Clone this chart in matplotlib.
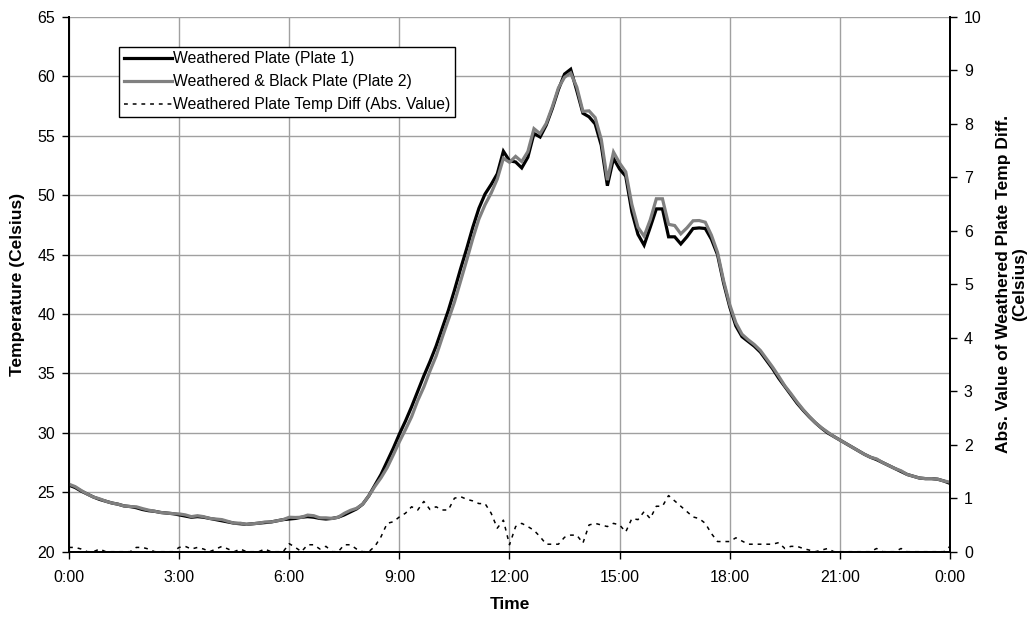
import numpy as np
import matplotlib
matplotlib.use("Agg")
import matplotlib.pyplot as plt
from matplotlib.lines import Line2D

plt.rcParams['font.family'] = ['Liberation Sans', 'DejaVu Sans']

# Readings every 10 minutes over one day (0:00 .. 24:00)
minutes = np.arange(0, 24 * 60 + 1, 10)
hours = minutes / 60.0

plate1 = [
    25.6, 25.4, 25.1, 24.85, 24.6, 24.4, 24.25, 24.1, 24.0, 23.85, 23.8, 23.7,
    23.55, 23.45, 23.4, 23.3, 23.25, 23.2, 23.1, 23.0, 22.9, 22.95, 22.9, 22.8,
    22.7, 22.6, 22.5, 22.4, 22.35, 22.3, 22.35, 22.4, 22.45, 22.5, 22.6, 22.7,
    22.75, 22.8, 22.9, 22.95, 22.9, 22.8, 22.75, 22.8, 22.9, 23.1, 23.35, 23.6,
    24.0, 24.7, 25.6, 26.5, 27.6, 28.7, 29.9, 31.0, 32.2, 33.5, 34.8, 36.0,
    37.3, 38.8, 40.3, 42.0, 43.8, 45.5, 47.3, 48.9, 50.1, 50.9, 51.8, 53.7,
    52.9, 52.8, 52.3, 53.2, 55.2, 54.9, 55.9, 57.3, 58.9, 60.2, 60.6, 58.8,
    56.9, 56.6, 56.0, 54.2, 50.8, 53.1, 52.2, 51.6, 48.6, 46.7, 45.8, 47.3,
    48.85, 48.85, 46.5, 46.5, 45.9, 46.5, 47.2, 47.25, 47.2, 46.3, 45.0, 42.6,
    40.6, 39.0, 38.1, 37.7, 37.3, 36.8, 36.1, 35.4, 34.6, 33.9, 33.2, 32.5,
    31.9, 31.35, 30.85, 30.4, 30.0, 29.7, 29.4, 29.1, 28.8, 28.5, 28.2, 27.95,
    27.75, 27.5, 27.25, 27.0, 26.75, 26.5, 26.35, 26.2, 26.15, 26.15, 26.1, 25.95,
    25.75,
]

plate2 = [
    25.68, 25.48, 25.15, 24.85, 24.6, 24.45, 24.25, 24.1, 24.0, 23.85, 23.8, 23.78,
    23.63, 23.5, 23.4, 23.3, 23.25, 23.2, 23.18, 23.1, 22.95, 23.03, 22.95, 22.8,
    22.75, 22.7, 22.55, 22.4, 22.4, 22.3, 22.35, 22.4, 22.5, 22.5, 22.6, 22.7,
    22.9, 22.88, 22.9, 23.08, 23.03, 22.85, 22.85, 22.8, 22.9, 23.23, 23.48, 23.65,
    24.0, 24.7, 25.5, 26.22, 27.07, 28.14, 29.25, 30.28, 31.36, 32.72, 33.86, 35.21,
    36.46, 38.02, 39.52, 41.0, 42.77, 44.52, 46.35, 48.0, 49.2, 50.18, 51.36, 53.11,
    52.77, 53.27, 52.83, 53.67, 55.6, 55.18, 56.04, 57.44, 59.04, 59.93, 60.29, 59.1,
    57.06, 57.1, 56.53, 54.7, 51.27, 53.63, 52.7, 51.97, 49.22, 47.3, 46.55, 47.92,
    49.7, 49.7, 47.55, 47.45, 46.75, 47.25, 47.85, 47.87, 47.73, 46.64, 45.19, 42.79,
    40.79, 39.26, 38.3, 37.84, 37.44, 36.94, 36.24, 35.54, 34.77, 33.96, 33.3, 32.6,
    31.96, 31.38, 30.85, 30.43, 30.06, 29.7, 29.4, 29.1, 28.8, 28.5, 28.2, 27.95,
    27.81, 27.5, 27.25, 27.0, 26.81, 26.5, 26.35, 26.2, 26.15, 26.15, 26.1, 25.95,
    25.85,
]

abs_diff = [
    0.08, 0.08, 0.05, 0.0, 0.0, 0.05, 0.0, 0.0, 0.0, 0.0, 0.0, 0.08,
    0.08, 0.05, 0.0, 0.0, 0.0, 0.0, 0.08, 0.1, 0.05, 0.08, 0.05, 0.0,
    0.05, 0.1, 0.05, 0.0, 0.05, 0.0, 0.0, 0.0, 0.05, 0.0, 0.0, 0.0,
    0.15, 0.08, 0.0, 0.13, 0.13, 0.05, 0.1, 0.0, 0.0, 0.13, 0.13, 0.05,
    0.0, 0.0, 0.1, 0.28, 0.53, 0.56, 0.65, 0.72, 0.84, 0.78, 0.94, 0.79,
    0.84, 0.78, 0.78, 1.0, 1.03, 0.98, 0.95, 0.9, 0.9, 0.72, 0.44, 0.59,
    0.13, 0.47, 0.53, 0.47, 0.4, 0.28, 0.14, 0.14, 0.14, 0.27, 0.31, 0.31,
    0.16, 0.5, 0.53, 0.5, 0.47, 0.53, 0.5, 0.37, 0.62, 0.6, 0.75, 0.62,
    0.85, 0.85, 1.05, 0.95, 0.85, 0.75, 0.65, 0.62, 0.53, 0.34, 0.19, 0.19,
    0.19, 0.26, 0.2, 0.14, 0.14, 0.14, 0.14, 0.14, 0.17, 0.06, 0.1, 0.1,
    0.06, 0.03, 0.0, 0.03, 0.06, 0.0, 0.0, 0.0, 0.0, 0.0, 0.0, 0.0,
    0.06, 0.0, 0.0, 0.0, 0.06, 0.0, 0.0, 0.0, 0.0, 0.0, 0.0, 0.0,
    0.1,
]

time_ticks = [0, 3, 6, 9, 12, 15, 18, 21, 24]
time_labels = ["0:00", "3:00", "6:00", "9:00", "12:00", "15:00", "18:00", "21:00", "0:00"]
temp_ticks = [20, 25, 30, 35, 40, 45, 50, 55, 60, 65]
diff_ticks = [0, 1, 2, 3, 4, 5, 6, 7, 8, 9, 10]

series_names = [
    "Weathered Plate (Plate 1)",
    "Weathered & Black Plate (Plate 2)",
    "Weathered Plate Temp Diff (Abs. Value)",
]

fig = plt.figure(figsize=(10.36, 6.19), dpi=100)
ax = fig.add_axes([69 / 1036, 1 - 551.7 / 619, (950 - 69) / 1036, (551.7 - 17) / 619])
ax2 = ax.twinx()

grid_color = "#a0a0a0"
ax.set_axisbelow(True)
ax.grid(True, color=grid_color, linewidth=1.0)

ax.plot(hours, plate1, color="black", linewidth=2.3, solid_joinstyle="miter", zorder=3)
ax.plot(hours, plate2, color="#808080", linewidth=2.3, solid_joinstyle="miter", zorder=4)
ax2.plot(hours, abs_diff, color="black", linewidth=1.1, linestyle=(0, (2.5, 3.2)))

ax.set_xlim(0, 24)
ax.set_ylim(20, 65)
ax2.set_ylim(0, 10)

ax.set_xticks(time_ticks)
ax.set_xticklabels(time_labels)
ax.set_yticks(temp_ticks)
ax2.set_yticks(diff_ticks)

for a in (ax, ax2):
    a.spines["top"].set_visible(False)
    for s in ("left", "right", "bottom"):
        a.spines[s].set_color("black")
        a.spines[s].set_linewidth(1.3)
    a.tick_params(direction="out", length=5, width=1.0, labelsize=11.5, colors="black", pad=5)
ax.tick_params(axis="x", pad=8)

ax.set_xlabel("Time", fontsize=12.5, fontweight="bold", labelpad=9)
ax.set_ylabel("Temperature (Celsius)", fontsize=12.5, fontweight="bold", labelpad=9)
ax2.set_ylabel("Abs. Value of Weathered Plate Temp Diff.\n(Celsius)", fontsize=12.5,
               fontweight="bold", rotation=90, labelpad=10, linespacing=1.15)

handles = [
    Line2D([], [], color="black", linewidth=2.3),
    Line2D([], [], color="#808080", linewidth=2.3),
    Line2D([], [], color="black", linewidth=1.1, linestyle=(0, (2.5, 3.2))),
]
leg = ax2.legend(handles, series_names, loc="upper left",
                 bbox_to_anchor=(50 / 881, 1 - 29.7 / 534.7),
                 frameon=True, fancybox=False, framealpha=1.0, edgecolor="black",
                 fontsize=11.3, handlelength=3.05, handletextpad=0.1,
                 borderpad=0.3, labelspacing=0.5, borderaxespad=0.0)
leg.get_frame().set_linewidth(1.0)

fig.savefig("out.png", dpi=100)
